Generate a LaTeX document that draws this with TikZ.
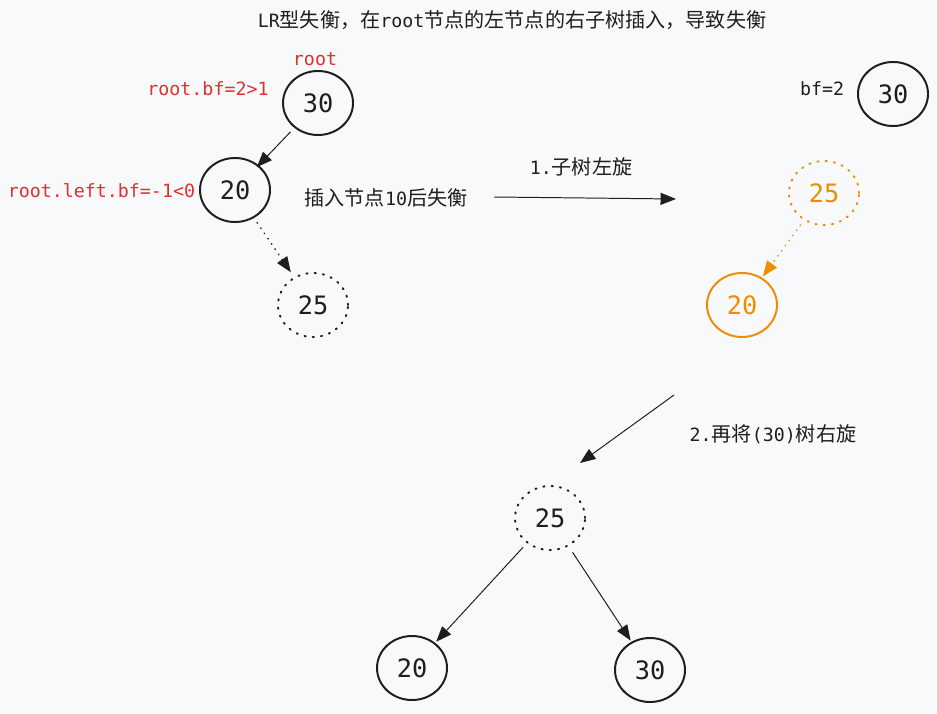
\documentclass[tikz,border=0pt]{standalone}
\usepackage{fontspec}
\setmainfont{DejaVu Sans Mono}
\newfontfamily\cjk[Scale=1.1]{Noto Sans CJK SC}
\usepackage{tikz}
\usetikzlibrary{shapes, arrows.meta}

\definecolor{bg}{HTML}{F8F9FA}
\definecolor{ink}{HTML}{1E1E1E}
\definecolor{alarm}{HTML}{E03131}
\definecolor{turn}{HTML}{F08C00}

\begin{document}
\begin{tikzpicture}[x=0.025cm, y=-0.025cm,
    tree/.style={ellipse, draw=ink, line width=1.4pt, minimum width=1.75cm, minimum height=1.6cm, inner sep=0pt, font=\fontsize{18}{21}\selectfont, text=ink},
    added/.style={tree, dash pattern=on 0.9pt off 5pt, line cap=round},
    note/.style={font=\fontsize{13}{16}\selectfont, text=ink},
    link/.style={draw=ink, line width=0.7pt, -{Triangle[length=11pt,width=8.5pt]}},
    hint/.style={link, line width=1pt, dash pattern=on 0.5pt off 4pt, line cap=round}
  ]
    %\draw[help lines, step=50] (0, 0) grid (937, 714);
    \fill[bg] (0, 0) rectangle (937, 714);
    \useasboundingbox (0, 0) rectangle (937, 714);

    \node[note] (title) at (512, 20) {LR{\cjk 型失衡，在}root{\cjk 节点的左节点的右子树插入，导致失衡}};

    % before
    \node[tree] (A30) at (318, 103) {30};
    \node[tree] (A20) at (235, 190) {20};
    \node[added] (A25) at (313, 305) {25};
    \node[note, text=alarm] (Aroot) at (315, 59) {root};
    \node[note, text=alarm] (Abf) at (208, 89) {root.bf=2>1};
    \node[note, text=alarm, anchor=east] (Aleft) at (200, 191) {root.left.bf=-1<0};
    \node[note] (Ainsert) at (386, 198) {{\cjk 插入节点}10{\cjk 后失衡}};

    \draw[link, shorten <=4pt, shorten >=-2pt] (A30) -- (A20);
    \draw[hint, shorten <=4pt, shorten >=4pt] (A20) -- (A25);

    % 1. left rotation of the subtree
    \coordinate (flipA) at (494, 197);
    \coordinate (flipB) at (676, 199);
    \draw[link] (flipA) -- (flipB);
    \node[note] (step1) at (581, 167) {1.{\cjk 子树左旋}};

    \node[tree] (B30) at (893, 94) {30};
    \node[note] (Bbf) at (822, 89) {bf=2};
    \node[added, draw=turn, text=turn] (B25) at (824, 193) {25};
    \node[tree, draw=turn, text=turn] (B20) at (742, 305) {20};
    \draw[hint, draw=turn, shorten <=4pt, shorten >=1pt] (B25) -- (B20);

    % 2. right rotation of (30)
    \coordinate (flipC) at (674, 395);
    \coordinate (flipD) at (580, 463);
    \draw[link] (flipC) -- (flipD);
    \node[note] (step2) at (773, 434) {2.{\cjk 再将}(30){\cjk 树右旋}};

    \node[added] (C25) at (550, 518) {25};
    \node[tree] (C20) at (412, 668) {20};
    \node[tree] (C30) at (650, 670) {30};
    \draw[link, shorten <=4pt, shorten >=1pt] (C25) -- (C20);
    \draw[link, shorten <=5pt, shorten >=1pt] (C25) -- (C30);

  \end{tikzpicture}
\end{document}
